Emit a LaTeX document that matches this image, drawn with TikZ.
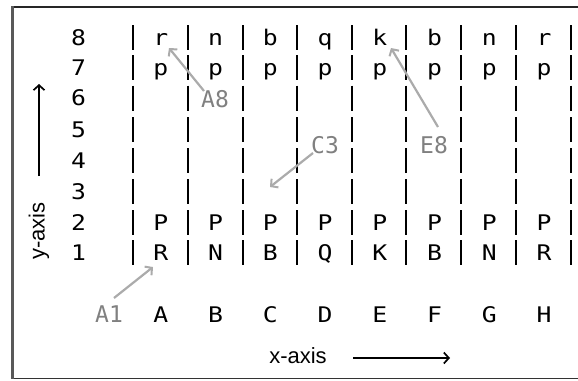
\documentclass[tikz,border=0pt]{standalone}
\usepackage{fontspec}
\setmainfont{Liberation Sans}
\newfontfamily\monof[FakeStretch=1.15]{DejaVu Sans Mono}
\newfontfamily\glabf{DejaVu Sans Mono}
\usetikzlibrary{arrows.meta}
\begin{document}
\begin{tikzpicture}[x=1pt,y=-1pt,
  cell/.style={font=\monof\fontsize{21.5}{25}\selectfont, inner sep=0pt, anchor=base},
  glabel/.style={font=\glabf\fontsize{23}{27}\selectfont, text=black!50, inner sep=0pt, anchor=base},
  axislabel/.style={font=\fontsize{22}{26}\selectfont, inner sep=0pt, anchor=base},
  bar/.style={line width=1.4pt},
  garrow/.style={draw=black!33, line width=2.2pt, -{Straight Barb[length=5pt,width=11pt,line width=2pt]}},
  axarrow/.style={line width=1.7pt, -{Straight Barb[length=5pt,width=11pt,line width=1.7pt]}}]
\useasboundingbox (0,0) rectangle (578,380);
% frame
\draw[line width=1.6pt, black!85] (578,7) -- (12,7);
\draw[line width=1.6pt, black!80] (12,378.5) -- (578,378.5);
\draw[line width=3pt, black!65] (12,6.2) -- (12,379.3);
% rows
\def\rowlist{8/37.5,7/67.5,6/98,5/129.5,4/160.5,3/191.5,2/222.5,1/252.5}
\foreach \r/\yy in \rowlist {
  \node[cell] (row\r) at (78.5,\yy+7.5) {\r};
  \foreach \bx in {133,188,243,297,352,406,461,516,571} {
    \draw[bar] (\bx,\yy-12.5) -- (\bx,\yy+12.5);
  }
}
% pieces
\foreach \p [count=\k from 0] in {r,n,b,q,k,b,n,r} {
  \node[cell] (b8c\k) at (160.7+54.75*\k,45) {\p};
  \node[cell] (b7c\k) at (160.7+54.75*\k,75) {p};
  \node[cell] (b2c\k) at (160.7+54.75*\k,230) {P};
}
\foreach \p [count=\k from 0] in {R,N,B,Q,K,B,N,R} {
  \node[cell] (b1c\k) at (160.7+54.75*\k,260) {\p};
}
\foreach \p [count=\k from 0] in {A,B,C,D,E,F,G,H} {
  \node[cell] (col\k) at (160.7+54.75*\k,322) {\p};
}
% gray labels
\node[glabel] (lA1) at (109,322) {A1};
\node[glabel] (lA8) at (215,107) {A8};
\node[glabel] (lC3) at (325,153) {C3};
\node[glabel] (lE8) at (434,153) {E8};
\coordinate (tA1) at (153,267);
\coordinate (tA8) at (169,48);
\coordinate (tC3) at (270,187);
\coordinate (tE8) at (391,48);
\coordinate (sA1) at (114,298);
\coordinate (sA8) at (204,91);
\coordinate (sC3) at (313,153);
\coordinate (sE8) at (438,127);
\draw[garrow] (sA1) -- (tA1);
\draw[garrow] (sA8) -- (tA8);
\draw[garrow] (sC3) -- (tC3);
\draw[garrow] (sE8) -- (tE8);
% axes
\node[axislabel] (xlab) at (298,363) {x-axis};
\coordinate (xa0) at (353,358);
\coordinate (xa1) at (450,358);
\draw[axarrow] (xa0) -- (xa1);
\node[axislabel, rotate=90, anchor=center] (ylab) at (39,231) {y-axis};
\coordinate (ya0) at (39,176);
\coordinate (ya1) at (39,84);
\draw[axarrow] (ya0) -- (ya1);
\end{tikzpicture}
\end{document}
